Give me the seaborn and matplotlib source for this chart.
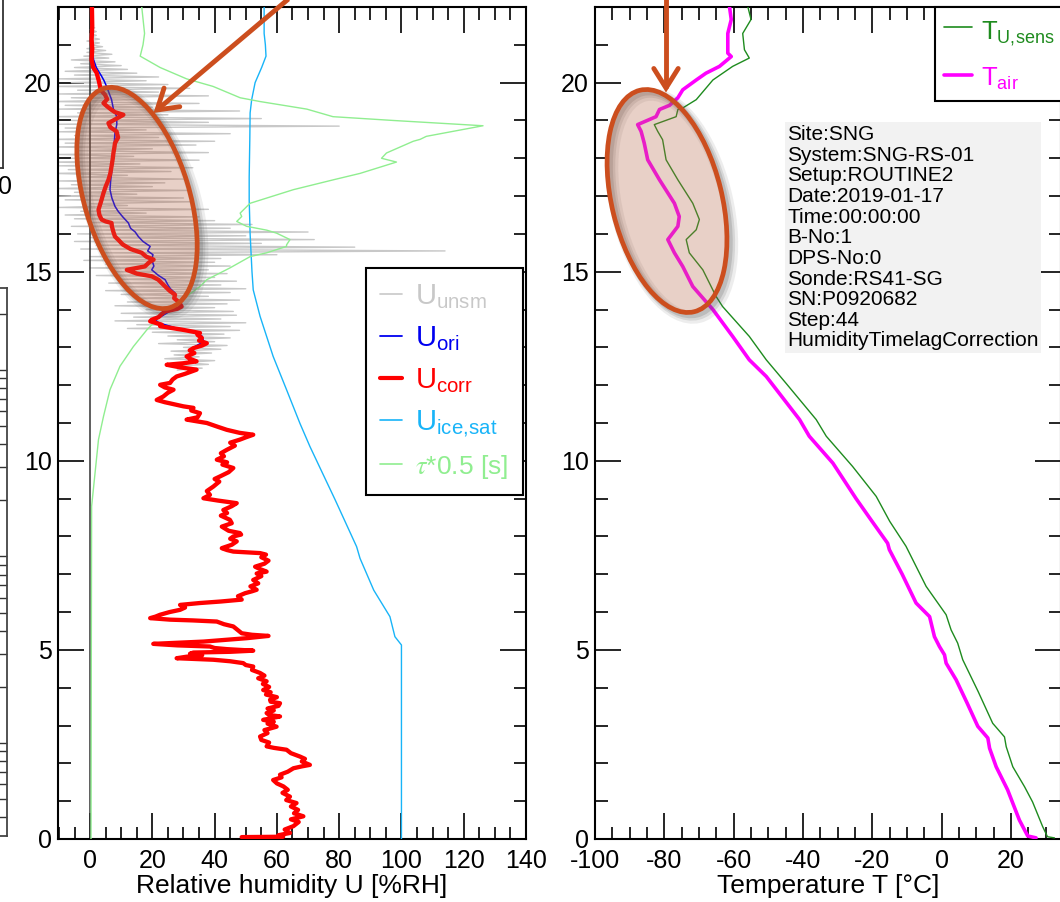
import numpy as np
import matplotlib
matplotlib.use("Agg")
import matplotlib.pyplot as plt
import seaborn as sns
from matplotlib.patches import Ellipse
from matplotlib.lines import Line2D
from matplotlib.ticker import MultipleLocator

# ---------------- data (height km, value) ----------------
U_CORR = [
    (0.05, 48.7), (0.06, 62.0), (0.10, 60.5), (0.16, 64.2), (0.25, 62.5), (0.34, 65.3), (0.45, 67.0),
    (0.52, 64.5), (0.60, 68.5), (0.68, 65.5), (0.77, 66.8), (0.86, 64.5), (0.95, 66.3), (1.03, 63.0),
    (1.12, 64.2), (1.22, 61.8), (1.30, 63.5), (1.39, 62.1), (1.47, 60.0), (1.56, 58.8), (1.63, 61.5),
    (1.70, 61.0), (1.78, 63.5), (1.87, 65.3), (1.92, 68.0), (1.96, 70.6), (2.05, 68.0), (2.12, 69.0),
    (2.18, 67.4), (2.27, 64.5), (2.36, 63.1), (2.41, 59.0), (2.45, 56.7), (2.55, 57.5), (2.62, 55.0),
    (2.71, 54.6), (2.80, 57.0), (2.88, 56.0), (2.97, 59.9), (3.05, 57.0), (3.10, 59.0), (3.15, 55.6),
    (3.20, 58.5), (3.24, 61.0), (3.28, 57.5), (3.33, 56.7), (3.40, 59.0), (3.45, 57.0), (3.52, 60.5),
    (3.59, 61.0), (3.63, 58.0), (3.68, 57.8), (3.75, 60.0), (3.82, 56.5), (3.88, 58.0), (3.94, 55.6),
    (4.02, 57.5), (4.10, 55.5), (4.17, 56.7), (4.25, 54.0), (4.32, 56.0), (4.39, 54.6), (4.47, 52.0),
    (4.56, 52.4), (4.60, 50.0), (4.65, 49.2), (4.70, 45.0), (4.74, 39.6), (4.76, 34.0), (4.78, 27.8),
    (4.82, 31.0), (4.86, 36.0), (4.90, 32.1), (4.93, 33.2), (4.95, 45.0), (4.98, 52.4), (5.02, 44.0),
    (5.05, 40.0), (5.09, 38.5), (5.12, 28.0), (5.16, 20.3), (5.19, 28.0), (5.22, 36.4), (5.27, 44.0),
    (5.31, 50.3), (5.37, 57.3), (5.40, 52.0), (5.44, 48.7), (5.52, 47.5), (5.62, 46.0), (5.68, 43.0),
    (5.75, 40.7), (5.78, 33.0), (5.80, 25.7), (5.84, 19.3), (5.88, 21.0), (5.93, 22.5), (6.00, 25.5),
    (6.06, 28.9), (6.12, 30.5), (6.19, 28.9), (6.24, 35.3), (6.28, 42.0), (6.33, 48.7), (6.42, 47.5),
    (6.50, 49.8), (6.55, 52.0), (6.59, 53.5), (6.68, 51.5), (6.76, 54.0), (6.85, 52.4), (6.95, 55.0),
    (7.02, 53.5), (7.07, 56.7), (7.14, 54.5), (7.20, 53.0), (7.28, 56.0), (7.36, 57.3), (7.45, 55.0),
    (7.52, 56.5), (7.56, 54.6), (7.60, 46.0), (7.64, 44.0), (7.69, 42.3), (7.78, 45.5), (7.87, 47.1),
    (7.94, 45.0), (8.00, 46.0), (8.05, 48.5), (8.09, 48.1), (8.15, 44.5), (8.26, 42.3), (8.35, 45.5),
    (8.44, 44.9), (8.55, 42.0), (8.62, 44.0), (8.70, 42.8), (8.80, 45.5), (8.88, 47.1), (8.95, 41.0),
    (9.01, 36.4), (9.10, 38.5), (9.20, 37.5), (9.32, 39.6), (9.45, 41.5), (9.52, 40.0), (9.59, 41.8),
    (9.70, 44.5), (9.81, 46.0), (9.90, 42.5), (9.96, 44.0), (10.03, 40.7), (10.12, 43.0), (10.20, 42.0),
    (10.29, 43.9), (10.40, 46.5), (10.48, 45.0), (10.56, 48.1), (10.62, 50.0), (10.69, 52.4), (10.74, 48.0),
    (10.82, 43.9), (10.90, 41.0), (11.00, 37.5), (11.05, 34.0), (11.09, 31.0), (11.15, 34.5), (11.26, 35.3),
    (11.33, 32.5), (11.40, 33.2), (11.44, 30.0), (11.48, 27.8), (11.55, 24.0), (11.61, 21.4), (11.70, 23.5),
    (11.80, 25.0), (11.88, 26.8), (11.94, 24.0), (12.01, 22.5), (12.06, 25.7), (12.15, 26.5), (12.23, 27.8),
    (12.30, 30.5), (12.41, 34.2), (12.47, 29.0), (12.54, 24.6), (12.58, 30.0), (12.63, 34.2), (12.70, 32.0),
    (12.76, 31.0), (12.85, 33.5), (12.92, 32.0), (12.98, 33.2), (13.05, 36.0), (13.11, 37.5), (13.18, 35.0),
    (13.25, 35.9), (13.33, 34.5), (13.38, 35.3), (13.47, 29.4), (13.56, 22.5), (13.60, 23.0), (13.66, 20.5),
    (13.69, 19.3), (13.73, 19.8), (13.80, 22.0), (13.88, 23.0), (13.95, 24.1), (14.02, 28.0), (14.08, 29.4),
    (14.20, 28.5), (14.30, 27.0), (14.39, 27.3), (14.50, 25.5), (14.61, 24.1), (14.70, 23.0), (14.79, 21.9),
    (14.88, 19.8), (14.95, 15.0), (15.05, 11.8), (15.10, 15.0), (15.14, 17.6), (15.25, 19.0), (15.32, 20.4),
    (15.40, 18.0), (15.50, 16.6), (15.60, 13.0), (15.72, 10.5), (15.85, 9.0), (15.93, 8.0), (16.05, 7.5),
    (16.20, 7.0), (16.29, 6.9), (16.33, 5.0), (16.38, 3.7), (16.50, 3.0), (16.64, 2.7), (16.85, 3.5),
    (17.08, 4.3), (17.25, 5.0), (17.43, 5.9), (17.60, 6.5), (17.79, 6.9), (18.00, 7.3), (18.14, 7.5),
    (18.28, 7.8), (18.40, 8.0), (18.55, 9.0), (18.71, 8.5), (18.82, 6.5), (18.93, 5.9), (19.05, 8.5),
    (19.15, 10.7), (19.22, 8.0), (19.28, 6.9), (19.37, 5.5), (19.46, 4.3), (19.56, 5.5), (19.68, 4.8),
    (19.80, 3.5), (19.90, 3.2), (20.05, 2.8), (20.26, 2.1), (20.40, 1.0), (20.61, 0.5), (20.90, 0.7),
    (21.14, 0.5), (21.50, 0.7), (22.00, 0.6),
]

U_ORI_UPPER = [
    (13.00, 33.2), (13.15, 36.5), (13.30, 35.9), (13.40, 33.0), (13.47, 29.4), (13.55, 26.0), (13.65, 22.0),
    (13.73, 20.9), (13.85, 23.5), (13.95, 25.5), (14.08, 27.3), (14.20, 28.5), (14.32, 27.0), (14.44, 27.3),
    (14.55, 25.8), (14.65, 25.0), (14.79, 24.1), (14.90, 22.0), (15.05, 19.8), (15.15, 20.5), (15.32, 19.8),
    (15.45, 20.2), (15.55, 18.5), (15.67, 19.3), (15.80, 17.0), (15.93, 15.5), (16.05, 14.5), (16.15, 13.0),
    (16.29, 12.3), (16.45, 10.5), (16.60, 9.0), (16.73, 8.0), (16.95, 7.0), (17.17, 6.4), (17.40, 6.6),
    (17.61, 6.9), (17.90, 7.2), (18.23, 7.5), (18.45, 7.8), (18.67, 8.0), (18.90, 8.6), (19.11, 8.5),
    (19.30, 7.5), (19.55, 6.9), (19.75, 6.0), (19.90, 5.3), (20.05, 4.5), (20.17, 3.7), (20.40, 2.0),
    (20.61, 1.1), (20.90, 0.8), (21.14, 0.5), (21.50, 0.6), (22.00, 0.6),
]

U_ICE_SAT = [
    (0.00, 100.0), (5.13, 100.0), (5.35, 97.9), (5.88, 96.3), (6.58, 91.1), (7.42, 86.7), (7.73, 85.6),
    (8.97, 78.7), (9.70, 74.5), (10.38, 70.6), (10.99, 67.4), (11.88, 63.1), (12.76, 58.8), (13.82, 54.6),
    (14.52, 52.4), (15.00, 52.0), (15.50, 51.7), (16.00, 51.4), (16.90, 51.1), (17.50, 51.1), (18.50, 51.3),
    (19.20, 51.4), (19.55, 51.9), (20.00, 53.0), (20.40, 55.1), (20.70, 56.5), (21.00, 56.3), (21.30, 55.9),
    (22.00, 55.9),
]

TAU_HALF = [
    (0.00, 0.3), (5.00, 0.4), (8.80, 0.5), (9.68, 1.6), (10.56, 2.7), (11.17, 4.3), (11.88, 6.4),
    (12.50, 9.6), (13.02, 13.9), (13.46, 18.2), (13.82, 22.5), (14.35, 31.0), (14.61, 35.3), (14.79, 37.5),
    (15.10, 44.9), (15.40, 51.4), (15.50, 56.7), (15.67, 63.1), (15.71, 63.1), (15.85, 64.2), (16.02, 59.9),
    (16.10, 56.7), (16.20, 50.3), (16.33, 47.1), (16.46, 48.7), (16.55, 48.2), (16.81, 51.4), (17.17, 65.3),
    (17.43, 78.1), (17.60, 86.7), (17.90, 98.4), (18.00, 93.6), (18.14, 95.2), (18.45, 103.8), (18.50, 106.0),
    (18.58, 108.0), (18.86, 126.2), (19.00, 97.3), (19.10, 78.0), (19.30, 69.6), (19.50, 54.6), (19.60, 48.2),
    (19.90, 39.5), (20.10, 31.0), (20.40, 22.5), (20.70, 16.1), (21.00, 17.0), (21.30, 17.5), (22.00, 16.6),
]

UNSM_START_KM = 12.40
UNSM_STEP_KM = 0.05
U_UNSM = [
    28, 36, 25, 38, 30, 40, 24, 35, 27, 39,
    26, 42, 30, 44, 22, 40, 28, 45, 25, 43,
    20, 48, 12, 45, 15, 50, 8, 42, 14, 47,
    10, 46, 18, 40, 8, 44, 12, 48, 15, 38,
    10, 45, 5, 50, 12, 42, 6, 47, 10, 40,
    2, 44, 8, 38, 0, 45, 5, 40, -2, 42,
    0, 60, 5, 114, -3, 85, 2, 55, -5, 72,
    0, 50, -4, 70, 2, 45, -6, 52, 0, 40,
    -5, 35, -8, 18, -3, 38, -10, 12, 0, 33,
    -8, 30, -10, 15, -5, 32, -12, 20, -6, 24,
    -10, 30, -4, 12, -12, 26, -7, 33, -10, 16,
    -12, 35, -6, 14, -10, 38, -4, 20, -12, 34,
    -8, 40, -12, 22, -5, 45, -10, 18, -8, 80,
    -10, 38, -6, 55, -12, 25, -4, 48, -10, 20,
    -8, 35, -12, 15, -6, 38, -10, 22, -4, 32,
    -12, 25, -6, 18, -10, 22, -5, 15, -8, 12,
    -5, 10, -3, 8, -6, 6, -2, 7, -1, 5,
    -1, 4, 0, 3, -1, 3, 0, 2, 0, 2,
    0, 1.5, 0.2, 1,
]

T_AIR = [
    (0.03, 27.2), (0.08, 24.8), (0.50, 22.4), (1.30, 19.0), (1.91, 15.7), (2.40, 13.8), (2.67, 13.3),
    (2.98, 10.4), (3.60, 7.3), (4.21, 4.15), (4.65, 1.27), (4.87, 0.8), (5.09, -0.66), (5.35, -2.1),
    (5.88, -3.5), (6.24, -7.4), (7.00, -11.4), (7.65, -15.1), (7.82, -15.6), (8.40, -20.1), (9.00, -24.7),
    (9.94, -31.4), (10.65, -38.2), (11.09, -41.0), (12.23, -50.6), (12.67, -55.5), (13.29, -60.3),
    (14.00, -66.0), (14.61, -71.8), (15.14, -74.7), (15.50, -77.1), (15.85, -79.0), (16.20, -76.1),
    (16.46, -75.7), (16.81, -77.1), (17.43, -81.4), (17.96, -84.8), (18.40, -85.8), (18.71, -86.7),
    (18.89, -87.7), (19.10, -82.4), (19.29, -81.4), (19.40, -78.5), (19.60, -76.1), (19.81, -74.7),
    (20.07, -70.8), (20.25, -68.0), (20.43, -64.1), (20.69, -60.7), (20.78, -61.7), (21.30, -61.7),
    (21.67, -60.7), (22.00, -61.2),
]

T_U_SENS = [
    (0.03, 32.5), (0.06, 30.5), (0.33, 29.1), (0.98, 26.2), (1.38, 23.9), (1.91, 20.5), (2.44, 18.6),
    (2.70, 18.1), (3.06, 14.7), (3.90, 10.5), (4.74, 6.06), (5.18, 4.6), (5.53, 2.7), (5.93, 1.27),
    (6.68, -4.5), (7.74, -10.3), (8.40, -15.0), (9.06, -18.9), (9.85, -25.7), (10.65, -33.3), (11.09, -36.2),
    (12.05, -44.9), (12.67, -50.6), (13.29, -55.5), (14.08, -63.2), (14.35, -65.1), (15.05, -68.9),
    (15.50, -72.8), (15.85, -73.7), (16.11, -70.8), (16.38, -69.9), (16.81, -71.8), (17.43, -76.1),
    (17.96, -79.5), (18.49, -80.5), (18.71, -81.9), (18.89, -82.9), (19.10, -76.6), (19.29, -76.1),
    (19.33, -74.7), (19.55, -70.8), (20.07, -66.0), (20.43, -60.3), (20.65, -55.5), (20.87, -56.9),
    (21.30, -57.4), (21.67, -55.0), (22.00, -55.9),
]

INFO_LINES = ["Site:SNG", "System:SNG-RS-01", "Setup:ROUTINE2", "Date:2019-01-17", "Time:00:00:00",
              "B-No:1", "DPS-No:0", "Sonde:RS41-SG", "SN:P0920682", "Step:44",
              "HumidityTimelagCorrection"]

LEFT_LABELS = [r"$\mathregular{U_{unsm}}$", r"$\mathregular{U_{ori}}$", r"$\mathregular{U_{corr}}$",
               r"$\mathregular{U_{ice,\!sat}}$", r"$\tau$*0.5 [s]"]
RIGHT_LABELS = [r"$\mathregular{T_{U,\!sens}}$", r"$\mathregular{T_{air}}$"]
U_XLABEL = "Relative humidity U [%RH]"
T_XLABEL = "Temperature T [°C]"

# ---------------- style ----------------
sns.set_theme(style="white")
plt.rcParams["font.family"] = ["Liberation Sans", "DejaVu Sans"]
plt.rcParams["mathtext.fontset"] = "stix"
plt.rcParams["axes.unicode_minus"] = False
for k in ["text.color", "axes.labelcolor", "xtick.color", "ytick.color", "axes.edgecolor"]:
    plt.rcParams[k] = "black"

C_UNSM, C_ORI, C_CORR, C_ICE, C_TAU = "#C8C8C8", "#0000F0", "#FF0000", "#18B4F8", "#90EE90"
C_TSENS, C_TAIR = "#1E8B1E", "#FF00FF"
C_MARK = "#CC4E1E"

W, H = 1060, 902
fig = plt.figure(figsize=(W / 100, H / 100), dpi=100)


def px_axes(x0, y0, x1, y1, **kw):
    return fig.add_axes([x0 / W, 1 - y1 / H, (x1 - x0) / W, (y1 - y0) / H], **kw)


axL = px_axes(58, 7, 526, 839)
axR = px_axes(595, 7, 1061, 839)
for ax in (axL, axR):
    ax.set_facecolor("none")

corr = np.array(U_CORR)
ori_up = np.array(U_ORI_UPPER)
ori = np.vstack([corr[corr[:, 0] < ori_up[0, 0]], ori_up])
ice = np.array(U_ICE_SAT)
tau = np.array(TAU_HALF)
unsm_val = np.array(U_UNSM, dtype=float)
unsm_km = UNSM_START_KM + UNSM_STEP_KM * np.arange(len(unsm_val))
tair = np.array(T_AIR)
tsens = np.array(T_U_SENS)

kw = dict(sort=False, estimator=None)
sns.lineplot(x=unsm_val, y=unsm_km, color=C_UNSM, linewidth=1.0, ax=axL, zorder=2, **kw)
axL.axvline(0, color="#333333", linewidth=1.1, zorder=2.4)
sns.lineplot(x=ice[:, 1], y=ice[:, 0], color=C_ICE, linewidth=1.0, ax=axL, zorder=3, **kw)
sns.lineplot(x=tau[:, 1], y=tau[:, 0], color=C_TAU, linewidth=1.0, ax=axL, zorder=3.2, **kw)
sns.lineplot(x=ori[:, 1], y=ori[:, 0], color=C_ORI, linewidth=1.1, ax=axL, zorder=4, **kw)
sns.lineplot(x=corr[:, 1], y=corr[:, 0], color=C_CORR, linewidth=3.1, ax=axL, zorder=5, **kw)

sns.lineplot(x=tsens[:, 1], y=tsens[:, 0], color=C_TSENS, linewidth=1.0, ax=axR, zorder=3, **kw)
sns.lineplot(x=tair[:, 1], y=tair[:, 0], color=C_TAIR, linewidth=2.6, ax=axR, zorder=4, **kw)

axL.set_xlim(-10.3, 140)
axR.set_xlim(-100, 34.4)
for ax in (axL, axR):
    ax.set_ylim(0, 22)
    ax.xaxis.set_major_locator(MultipleLocator(20))
    ax.xaxis.set_minor_locator(MultipleLocator(5))
    ax.yaxis.set_major_locator(MultipleLocator(5))
    ax.yaxis.set_minor_locator(MultipleLocator(1))
    ax.tick_params(which="both", direction="in", top=True, bottom=True, left=True, right=True,
                   colors="black", labelsize=18)
    ax.tick_params(which="major", length=18.5, width=1.2)
    ax.tick_params(which="minor", length=9, width=1.2)
    ax.tick_params(axis="x", pad=7)
    ax.tick_params(axis="y", pad=4.5)
    for s in ax.spines.values():
        s.set_linewidth(1.5)
        s.set_color("black")
    ax.set_ylabel("")
    ax.grid(False)

axL.set_xlabel(U_XLABEL, fontsize=19, labelpad=1)
axR.set_xlabel(T_XLABEL, fontsize=19, labelpad=1)

# legends
hL = [Line2D([], [], color=C_UNSM, lw=1.2), Line2D([], [], color=C_ORI, lw=1.3),
      Line2D([], [], color=C_CORR, lw=3.0), Line2D([], [], color=C_ICE, lw=1.2),
      Line2D([], [], color=C_TAU, lw=1.2)]
legL = axL.legend(hL, LEFT_LABELS, loc="upper right",
                  bbox_to_anchor=((523 - 58) / 468, (839 - 268) / 832), borderaxespad=0,
                  fontsize=21, labelcolor="linecolor", frameon=True, fancybox=False,
                  edgecolor="black", framealpha=1, handlelength=0.75, handletextpad=0.45,
                  labelspacing=0.45, borderpad=0.5)
legL.get_frame().set_linewidth(1.5)
legL.get_texts()[4].set_fontsize(19)
legL.set_zorder(20)

hR = [Line2D([], [], color=C_TSENS, lw=1.2), Line2D([], [], color=C_TAIR, lw=2.6)]
legR = axR.legend(hR, RIGHT_LABELS, loc="upper left", bbox_to_anchor=((935 - 595) / 466, 1.0),
                  borderaxespad=0, fontsize=18.5, labelcolor="linecolor", frameon=True, fancybox=False,
                  edgecolor="black", framealpha=1, handlelength=1.1, handletextpad=0.35,
                  handleheight=1.35, labelspacing=0.6, borderpad=0.35)
legR.get_frame().set_linewidth(1.5)
legR.set_zorder(20)

fig.text(787 / W, 1 - 125 / H, "\n".join(INFO_LINES), fontsize=15, ha="left", va="top",
         linespacing=1.11,
         bbox=dict(boxstyle="square,pad=0.12", facecolor="#F2F2F2", edgecolor="none"))

# neighbouring panels cut off at the left edge
axU = px_axes(-120, -60, 2.5, 168)
axU.set_xticks([])
axU.set_yticks([])
for s in axU.spines.values():
    s.set_linewidth(1.3)
    s.set_color("#333333")
fig.text(5 / W, 1 - 187 / H, "0", fontsize=18, ha="center", va="center")

axS = px_axes(-120, 288, 6.5, 836)
axS.set_yscale("log")
axS.set_ylim(0.317, 275)
axS.set_xticks([])
axS.yaxis.tick_right()
axS.tick_params(axis="y", which="both", direction="in", length=9, width=1.0, right=True, left=False,
                labelright=False, labelleft=False, colors="#333333")
for s in axS.spines.values():
    s.set_linewidth(1.3)
    s.set_color("#444444")

# ---------------- annotation overlay (pixel coordinates) ----------------
ov = fig.add_axes([0, 0, 1, 1], zorder=10)
ov.set_xlim(0, W)
ov.set_ylim(H, 0)
ov.axis("off")

ELLIPSES = [((137, 198), 105, 229, -16.8), ((667, 201), 110, 228, -13.8)]
for (cx, cy), ew, eh, ang in ELLIPSES:
    for off, lw, a in [(5, 9, 0.10), (4, 6, 0.15), (3, 4, 0.2)]:
        ov.add_patch(Ellipse((cx + off, cy + off), ew, eh, angle=ang, fill=False,
                             edgecolor="#555555", lw=lw, alpha=a))
    ov.add_patch(Ellipse((cx, cy), ew, eh, angle=ang, facecolor="#B46446", alpha=0.3,
                         edgecolor="none"))
    ov.add_patch(Ellipse((cx, cy), ew, eh, angle=ang, fill=False, edgecolor=C_MARK, lw=3.4))


def arrow(start, tip, head_len=23, half_angle=32):
    start, tip = np.array(start, float), np.array(tip, float)
    back = (start - tip) / np.linalg.norm(start - tip)
    wings = []
    for s in (1, -1):
        t = np.radians(s * half_angle)
        rot = np.array([[np.cos(t), -np.sin(t)], [np.sin(t), np.cos(t)]])
        wings.append(tip + head_len * rot @ back)
    ov.plot([start[0], tip[0]], [start[1], tip[1]], color=C_MARK, lw=3.5, solid_capstyle="butt")
    ov.plot([wings[0][0], tip[0], wings[1][0]], [wings[0][1], tip[1], wings[1][1]], color=C_MARK,
            lw=3.5, solid_joinstyle="miter", solid_capstyle="round")


arrow((305, -15), (157, 110))
arrow((666, -15), (666, 88))

fig.savefig("out.png", dpi=100)
